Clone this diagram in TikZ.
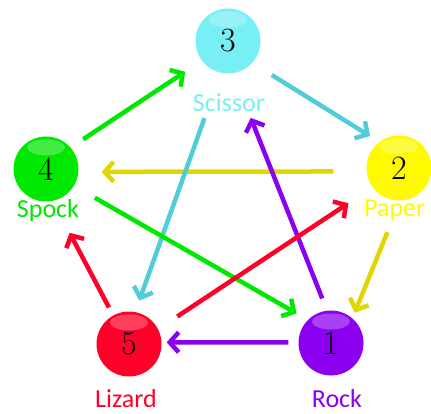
\documentclass[tikz,border=0pt]{standalone}
\usepackage{fontspec}
\usepackage{tikz}
\usetikzlibrary{arrows.meta}
\newfontfamily\lblfont{Carlito}
\definecolor{rockc}{RGB}{140,0,240}
\definecolor{paperc}{RGB}{255,250,0}
\definecolor{scisc}{RGB}{120,238,245}
\definecolor{spockc}{RGB}{0,232,0}
\definecolor{lizc}{RGB}{255,0,40}
\definecolor{scisarr}{RGB}{80,205,215}
\definecolor{paperarr}{RGB}{225,215,0}

\begin{document}
\begin{tikzpicture}[x=1pt,y=-1pt,
    ball/.style={circle, fill=#1, minimum size=65pt, inner sep=0pt,
      font=\fontsize{34}{34}\selectfont,
      path picture={\fill[white, opacity=0.25] ([yshift=-11pt]path picture bounding box.north) ellipse (19pt and 8pt);}},
    lbl/.style={text=#1, anchor=base, inner sep=0pt, font=\lblfont\fontsize{26}{26}\selectfont},
    arr/.style={draw=#1, line width=4.5pt, -{Straight Barb[length=9pt, width=20pt]}}]
  \useasboundingbox (0,0) rectangle (431,414);
  % the five balls
  \node[ball=rockc]  (n1) at (331,343) {1};
  \node[ball=paperc] (n2) at (399,168) {2};
  \node[ball=scisc]  (n3) at (228,41)  {3};
  \node[ball=spockc] (n4) at (46,169)  {4};
  \node[ball=lizc]   (n5) at (129,344) {5};
  % names
  \node[lbl=rockc]  (l1) at (337,407) {Rock};
  \node[lbl=paperc, anchor=base west] (l2) at (364,217) {Paper};
  \node[lbl=scisc]  (l3) at (229,112) {Scissor};
  \node[lbl=spockc] (l4) at (48,218)  {Spock};
  \node[lbl=lizc]   (l5) at (126,407) {Lizard};
  % who beats whom
  \draw[arr=spockc, shorten <=15pt, shorten >=20pt] (n4.41) -- (n3.217);
  \draw[arr=scisarr, shorten <=23pt, shorten >=11pt] (n3.318) -- (n2.127);
  \draw[arr=paperarr, shorten <=33pt, shorten >=23pt] (n2.186) -- (n4.355);
  \draw[arr=paperarr, shorten <=34pt, shorten >=6pt] (n2.272) -- (n1.49);
  \draw[arr=rockc, shorten <=10pt, shorten >=5pt] (n1.179) -- (n5.3);
  \draw[arr=lizc, shorten <=9pt, shorten >=36pt] (n5.119) -- (n4.282);
  \draw[arr=scisarr, shorten <=48pt, shorten >=12pt] (n3.257) -- (n5.79);
  \draw[arr=rockc, shorten <=13pt, shorten >=48pt] (n1.97) -- (n3.279);
  \draw[arr=spockc, shorten <=24pt, shorten >=13pt] (n4.329) -- (n1.135);
  \draw[arr=lizc, shorten <=23pt, shorten >=29pt] (n5.27) -- (n2.216);
\end{tikzpicture}
\end{document}
